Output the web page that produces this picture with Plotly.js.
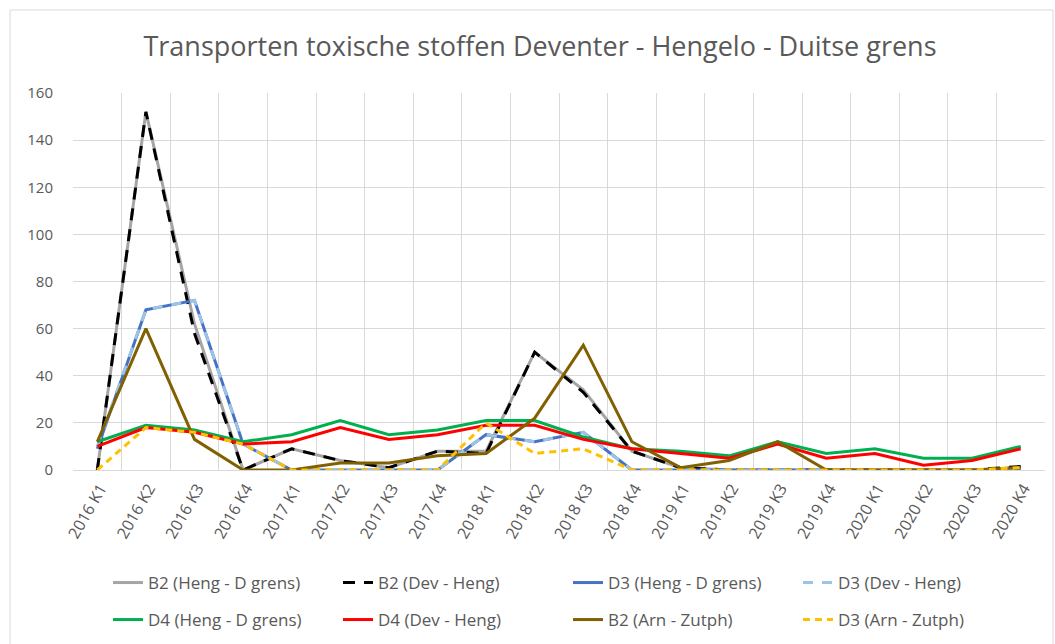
<!DOCTYPE html>
<html>
<head>
<meta charset="utf-8">
<script src="https://cdn.plot.ly/plotly-3.0.1.min.js"></script>
<style>
  html, body { margin: 0; padding: 0; background: #ffffff; }
  #chart { width: 1055px; height: 644px; }
</style>
</head>
<body>
<div id="chart"></div>
<script>
const categories = ['2016 K1','2016 K2','2016 K3','2016 K4','2017 K1','2017 K2','2017 K3','2017 K4',
  '2018 K1','2018 K2','2018 K3','2018 K4','2019 K1','2019 K2','2019 K3','2019 K4',
  '2020 K1','2020 K2','2020 K3','2020 K4'];

const b2HengDgrens = [0,152,62,0,9,4,1,8,8,50,34,8,1,0,0,0,0,0,0,1];
const b2DevHeng    = [0,152,58,0,9,4,1,8,7,50,33,8,1,0,0,0,0,0,0,1.5];
const d3HengDgrens = [9,68,72,11,0,0,0,0,15,12,16,0,0,0,0,0,0,0,0,0];
const d3DevHeng    = [10,68,72,11,0,0,0,0,15,12,16,0,0,0,0,0,0,0,0,0];
const d4HengDgrens = [12,19,17,12,15,21,15,17,21,21,14,9,8,6,12,7,9,5,5,10];
const d4DevHeng    = [10,18,16,11,12,18,13,15,19,19,13,9,7,5,11,5,7,2,4,9];
const b2ArnZutph   = [12,60,13,0,0,3,3,6,7,22,53,12,1,4,12,0,0,0,0,1];
const d3ArnZutph   = [0,18,16,11,0,0,0,0,20,7,9,0,0,0,0,0,0,0,0,1];

const seriesNames = ['B2 (Heng - D grens)','B2 (Dev - Heng)','D3 (Heng - D grens)','D3 (Dev - Heng)',
  'D4 (Heng - D grens)','D4 (Dev - Heng)','B2 (Arn - Zutph)','D3 (Arn - Zutph)'];
const seriesValues = [b2HengDgrens,b2DevHeng,d3HengDgrens,d3DevHeng,d4HengDgrens,d4DevHeng,b2ArnZutph,d3ArnZutph];
const seriesColors = ['#A5A5A5','#000000','#4472C4','#9DC3E6','#00B050','#FF0000','#806000','#FFC000'];
const seriesDash = ['solid','12px,9px','solid','10px,9px','solid','solid','solid','7px,5px'];

const traces = seriesNames.map((name, i) => ({
  type: 'scatter',
  mode: 'lines',
  name: name,
  x: categories,
  y: seriesValues[i],
  line: {color: seriesColors[i], width: 3, dash: seriesDash[i]},
  legend: i < 4 ? 'legend' : 'legend2',
  hoverinfo: 'x+y+name'
}));

const L = 73, R = 1045, T = 93, B = 470;
const W = R - L, H = B - T;
const px = v => (v - L) / W;
const py = v => (B - v) / H;

const legendCommon = {
  orientation: 'h',
  xanchor: 'left',
  yanchor: 'middle',
  entrywidth: 185,
  entrywidthmode: 'pixels',
  font: {family: 'Open Sans, sans-serif', size: 17, color: '#595959'},
  bgcolor: 'rgba(0,0,0,0)',
  traceorder: 'normal'
};

const layout = {
  width: 1055,
  height: 644,
  paper_bgcolor: '#ffffff',
  plot_bgcolor: '#ffffff',
  margin: {l: L, r: 1055 - R, t: T, b: 644 - B, autoexpand: false},
  font: {family: 'Open Sans, sans-serif', color: '#595959'},
  title: {
    text: 'Transporten toxische stoffen Deventer - Hengelo - Duitse grens',
    font: {family: 'Open Sans, sans-serif', size: 27, color: '#595959'},
    x: 540 / 1055, xref: 'container', xanchor: 'center',
    y: 1 - 47 / 644, yref: 'container', yanchor: 'middle'
  },
  xaxis: {
    type: 'category',
    range: [-0.5, 19.5],
    tickson: 'boundaries',
    showgrid: true,
    gridcolor: '#D9D9D9',
    gridwidth: 1,
    showline: true,
    linecolor: '#D9D9D9',
    linewidth: 1,
    ticks: '',
    tickangle: -60,
    ticklabelshift: 3,
    ticklabelstandoff: 2,
    tickfont: {family: 'Open Sans, sans-serif', size: 16, color: '#595959'},
    automargin: false
  },
  yaxis: {
    range: [0, 160],
    dtick: 20,
    tick0: 0,
    showgrid: true,
    gridcolor: '#D9D9D9',
    gridwidth: 1,
    zeroline: true,
    zerolinecolor: '#D9D9D9',
    zerolinewidth: 1,
    showline: false,
    ticks: '',
    ticklabelstandoff: 19,
    tickfont: {family: 'Open Sans, sans-serif', size: 15, color: '#595959'},
    automargin: false
  },
  showlegend: true,
  legend: Object.assign({}, legendCommon, {x: px(108), y: py(583)}),
  legend2: Object.assign({}, legendCommon, {x: px(108), y: py(620)}),
  shapes: [{
    type: 'rect', xref: 'paper', yref: 'paper', layer: 'below',
    x0: px(10), x1: px(1053), y0: py(660), y1: py(10),
    line: {color: '#D9D9D9', width: 1}, fillcolor: 'rgba(0,0,0,0)'
  }]
};

Plotly.newPlot('chart', traces, layout, {displayModeBar: false, responsive: false});
</script>
</body>
</html>
